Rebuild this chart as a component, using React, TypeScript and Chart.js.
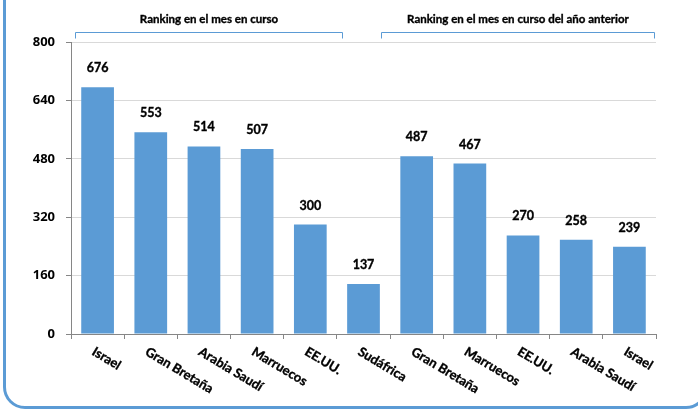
import React, { useEffect, useRef } from "react";
import { Chart, registerables } from "chart.js";

Chart.register(...registerables);

const categories = [
  "Israel",
  "Gran Bretaña",
  "Arabia Saudí",
  "Marruecos",
  "EE.UU.",
  "Sudáfrica",
  "Gran Bretaña",
  "Marruecos",
  "EE.UU.",
  "Arabia Saudí",
  "Israel",
];
const values = [676, 553, 514, 507, 300, 137, 487, 467, 270, 258, 239];
const yTickValues = [0, 160, 320, 480, 640, 800];
const groupTitles = ["Ranking en el mes en curso", "Ranking en el mes en curso del año anterior"];
const groupRanges: [number, number][] = [
  [0, 4],
  [6, 10],
];

const FONT = "Lato, 'Open Sans', sans-serif";
const BLUE = "#5b9bd5";

function heavyText(ctx: any, text: string, x: number, y: number) {
  ctx.fillText(text, x, y);
  ctx.lineWidth = 0.35;
  ctx.strokeStyle = ctx.fillStyle;
  ctx.strokeText(text, x, y);
}

const labelsPlugin = {
  id: "customLabels",
  afterDraw(chart: any) {
    const ctx = chart.ctx;
    const x = chart.scales.x;
    const area = chart.chartArea;
    const meta = chart.getDatasetMeta(0);
    ctx.save();
    // value labels
    ctx.fillStyle = "#000";
    ctx.font = `bold 12.5px ${FONT}`;
    ctx.textAlign = "center";
    ctx.textBaseline = "middle";
    meta.data.forEach((bar: any, i: number) => {
      heavyText(ctx, String(values[i]), bar.x, bar.y - 19);
    });
    // rotated category labels
    ctx.font = `bold 13px ${FONT}`;
    ctx.textAlign = "left";
    ctx.textBaseline = "top";
    categories.forEach((c, i) => {
      const px = x.getPixelForValue(i);
      ctx.save();
      ctx.translate(px - 1, area.bottom + 11);
      ctx.rotate((31 * Math.PI) / 180);
      heavyText(ctx, c, 0, 0);
      ctx.restore();
    });
    // brackets
    const cw = x.getPixelForValue(1) - x.getPixelForValue(0);
    const offs: [number, number][] = [
      [-0.42, 0.6],
      [-0.68, 0.47],
    ];
    groupRanges.forEach((r, gi) => {
      const x0 = Math.round(x.getPixelForValue(r[0]) + offs[gi][0] * cw) + 0.5;
      const x1 = Math.round(x.getPixelForValue(r[1]) + offs[gi][1] * cw) + 0.5;
      const yt = 32.5;
      ctx.strokeStyle = BLUE;
      ctx.lineWidth = 1;
      ctx.beginPath();
      ctx.moveTo(x0, yt + 6);
      ctx.lineTo(x0, yt);
      ctx.lineTo(x1, yt);
      ctx.lineTo(x1, yt + 6);
      ctx.stroke();
      ctx.fillStyle = "#000";
      ctx.font = `bold 11.5px ${FONT}`;
      ctx.textAlign = "center";
      ctx.textBaseline = "middle";
      heavyText(ctx, groupTitles[gi], (x0 + x1) / 2, 19);
    });
    ctx.restore();
  },
};

export default function App() {
  const ref = useRef<HTMLCanvasElement | null>(null);
  useEffect(() => {
    if (!ref.current) return;
    const chart = new Chart(ref.current, {
      type: "bar",
      data: {
        labels: categories,
        datasets: [
          {
            data: values,
            backgroundColor: BLUE,
            borderWidth: 0,
            barPercentage: 0.615,
            categoryPercentage: 1,
          },
        ],
      },
      options: {
        animation: false,
        responsive: false,
        maintainAspectRatio: false,
        layout: { padding: { left: 0, right: 42, top: 42, bottom: 0 } },
        plugins: { legend: { display: false }, tooltip: { enabled: false } },
        scales: {
          x: {
            grid: {
              offset: true,
              drawOnChartArea: false,
              drawTicks: true,
              tickLength: 5,
              tickColor: "#868686",
            },
            border: { color: "#868686", width: 1 },
            ticks: { display: false },
            afterFit(scale: any) {
              scale.height = 78;
            },
          },
          y: {
            min: 0,
            max: 800,
            afterBuildTicks(scale: any) {
              scale.ticks = yTickValues.map((v) => ({ value: v }));
            },
            grid: {
              color: "#d9d9d9",
              tickColor: "#868686",
              tickLength: 5,
            },
            border: { color: "#868686", width: 1 },
            ticks: {
              color: "#000",
              padding: 11,
              font: { family: "'Open Sans', Lato, sans-serif", size: 13, weight: "bold" },
            },
            afterFit(scale: any) {
              scale.width = 71;
            },
          },
        },
      },
      plugins: [labelsPlugin],
    } as any);
    return () => chart.destroy();
  }, []);
  return (
    <div
      style={{
        position: "fixed",
        left: 0,
        top: 0,
        width: 698,
        height: 412,
        overflow: "hidden",
        background: "#fff",
      }}
    >
      <div
        style={{
          position: "absolute",
          left: 3,
          top: -40,
          width: 705,
          height: 449,
          border: `3px solid ${BLUE}`,
          borderRadius: 22,
          boxSizing: "border-box",
        }}
      />
      <canvas ref={ref} width={698} height={412} style={{ position: "absolute", left: 0, top: 0 }} />
    </div>
  );
}
